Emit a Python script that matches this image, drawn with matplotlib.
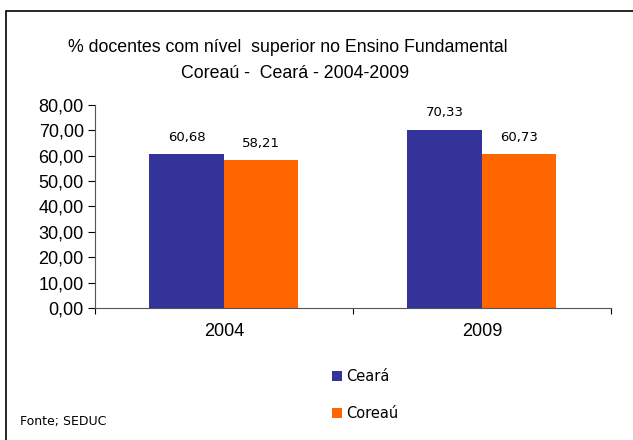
import matplotlib.pyplot as plt
from matplotlib.patches import Rectangle
from matplotlib.ticker import FuncFormatter

# data
years = ["2004", "2009"]
series = ["Ceará", "Coreaú"]
ceara = [60.68, 70.33]
coreau = [58.21, 60.73]
colors = ["#333399", "#FF6600"]
yticks = [0, 10, 20, 30, 40, 50, 60, 70, 80]


def br(v):
    return f"{v:.2f}".replace(".", ",")


fig = plt.figure(figsize=(6.33, 4.4), dpi=100)
ax = fig.add_axes([0.150, 0.300, 0.815, 0.4614])

# outer frame of the chart area
fig.patches.append(Rectangle((6 / 633, -0.1), 2, 1 - 11 / 440 + 0.1,
                             transform=fig.transFigure, fill=False,
                             edgecolor="black", linewidth=1.2))

w = 0.289
xc = [0.5, 1.5]
vals = [ceara, coreau]
for k, (name, v, c) in enumerate(zip(series, vals, colors)):
    xs = [x + (k - 0.5) * w for x in xc]
    bars = ax.bar(xs, v, width=w, color=c, label=name, zorder=2)
    for x, y in zip(xs, v):
        ax.text(x, y + 4, br(y), ha="center", va="bottom",
                fontsize=9.5, family="DejaVu Sans")

ax.set_xlim(0, 2)
ax.set_ylim(0, 80)
ax.set_yticks(yticks)
ax.yaxis.set_major_formatter(FuncFormatter(lambda v, p: br(v)))
ax.tick_params(axis="y", direction="out", length=5, width=0.8,
               labelsize=13, pad=3)
for lab in ax.get_yticklabels():
    lab.set_family("Liberation Sans")

ax.set_xticks([0, 1, 2])
ax.set_xticklabels([])
ax.set_xticks(xc, minor=True)
ax.set_xticklabels(years, minor=True, family="Liberation Sans", fontsize=13)
ax.tick_params(axis="x", which="major", direction="out", length=4, width=0.8)
ax.tick_params(axis="x", which="minor", length=0, pad=11)

for s in ["top", "right"]:
    ax.spines[s].set_visible(False)
for s in ["left", "bottom"]:
    ax.spines[s].set_color("#555555")
    ax.spines[s].set_linewidth(0.8)

fig.text(288 / 633, 1 - 47 / 440,
         "% docentes com nível  superior no Ensino Fundamental",
         ha="center", va="center", fontsize=12.8, family="Liberation Sans")
fig.text(295 / 633, 1 - 73 / 440, "Coreaú -  Ceará - 2004-2009",
         ha="center", va="center", fontsize=12.8, family="Liberation Sans")

ax.legend(loc="upper left", bbox_to_anchor=(332 / 633, 1 - 369 / 440),
          bbox_transform=fig.transFigure, frameon=False,
          prop={"family": "DejaVu Sans", "size": 10.5},
          handlelength=0.7, handleheight=0.7, handletextpad=0.25,
          labelspacing=1.5, borderpad=0, borderaxespad=0)

fig.text(20 / 633, 1 - 421 / 440, "Fonte; SEDUC", ha="left", va="center",
         fontsize=9, family="DejaVu Sans")

fig.savefig("out.png", dpi=100)
